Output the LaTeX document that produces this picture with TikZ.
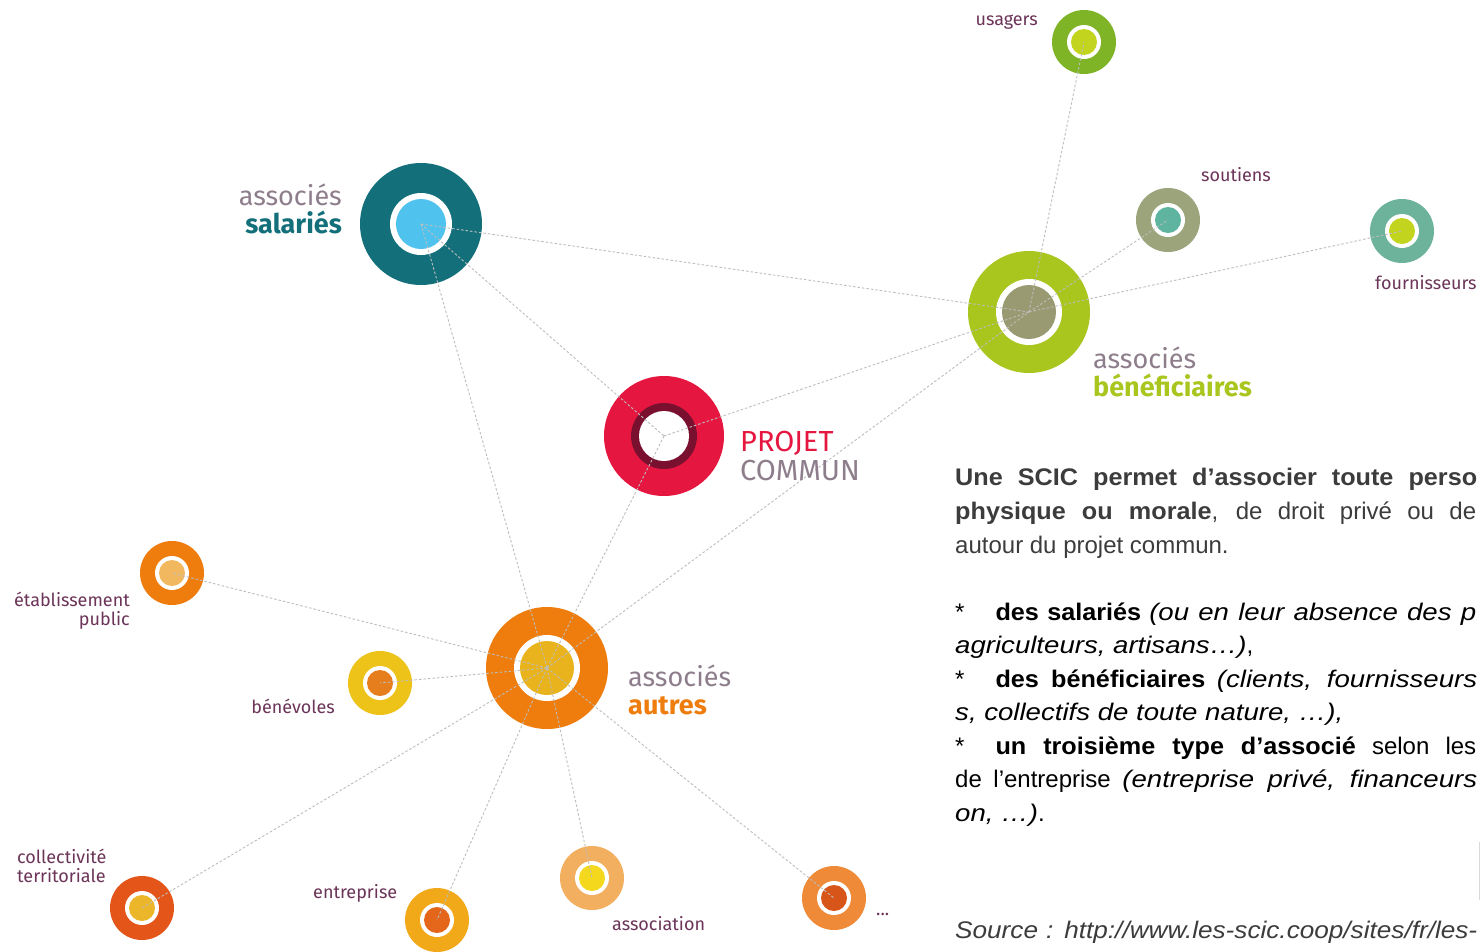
\documentclass[tikz,border=0pt]{standalone}
\usepackage{fontspec}
\setmainfont{Liberation Sans}[BoldFeatures={FakeStretch=1.05},ItalicFeatures={FakeStretch=1.15}]
\newfontfamily\srcfont{Liberation Sans}[ItalicFeatures={FakeStretch=1.09}]
\newfontfamily\labfont{Fira Sans}
\usetikzlibrary{positioning}
\definecolor{teal1}{HTML}{13707A}
\definecolor{sky1}{HTML}{4FC3EE}
\definecolor{crim}{HTML}{E5163F}
\definecolor{wine}{HTML}{7A1030}
\definecolor{lime1}{HTML}{A8C61E}
\definecolor{olive1}{HTML}{9A9A72}
\definecolor{orng}{HTML}{EE7D0E}
\definecolor{gold1}{HTML}{E8B31C}
\definecolor{grn1}{HTML}{7FB427}
\definecolor{lime2}{HTML}{C2D41E}
\definecolor{khaki}{HTML}{9BA47A}
\definecolor{teal2}{HTML}{5FB3A1}
\definecolor{teal3}{HTML}{6DB39B}
\definecolor{lorng}{HTML}{F2B860}
\definecolor{yel1}{HTML}{EDC31A}
\definecolor{orng2}{HTML}{E67E1E}
\definecolor{redor}{HTML}{E4551A}
\definecolor{gold2}{HTML}{EBB62A}
\definecolor{amber}{HTML}{F1A91A}
\definecolor{orng3}{HTML}{E4661A}
\definecolor{peach}{HTML}{F2AF5F}
\definecolor{yel2}{HTML}{F4D81E}
\definecolor{orng4}{HTML}{EE8A38}
\definecolor{orng5}{HTML}{D8551A}
\definecolor{plum}{HTML}{6B3458}
\definecolor{greyp}{HTML}{8E7E8C}
\definecolor{txtg}{HTML}{3C3C3C}
\definecolor{linkc}{HTML}{BDBDBD}
\tikzset{
  link/.style={draw=linkc, line width=0.9pt, dash pattern=on 2.5pt off 2pt},
  hub/.style={circle, minimum size=122pt, inner sep=0pt},
  leaf/.style={circle, minimum size=64pt, inner sep=0pt},
  small/.style={font=\labfont\fontsize{18}{20}\selectfont, text=plum, inner sep=0pt},
  biglab/.style={font=\labfont\fontsize{27}{29}\selectfont, inner sep=0pt},
  para/.style={font=\fontsize{24}{28}\selectfont, inner sep=0pt, anchor=base west, text=black},
}
% ring: name, center, outer radius, outer colour, white radius, inner radius, inner colour
\newcommand{\ring}[7]{%
  \fill[#4] (#2) circle (#3);
  \fill[white] (#2) circle (#5);
  \fill[#7] (#2) circle (#6);
}
\newcommand{\just}[2]{\makebox[#1pt][s]{#2}}
\begin{document}
\begin{tikzpicture}[x=1pt,y=-1pt]
\useasboundingbox (0,0) rectangle (1481,951);
\fill[white] (0,0) rectangle (1481,951);
% named centres
\coordinate (sal) at (421,224);
\coordinate (pro) at (664,436);
\coordinate (ben) at (1029,312);
\coordinate (aut) at (547,668);
\coordinate (usa) at (1084,42);
\coordinate (sou) at (1168,220);
\coordinate (fou) at (1402,231);
\coordinate (eta) at (172,573);
\coordinate (bnv) at (380,683);
\coordinate (col) at (142,908);
\coordinate (ent) at (437,920);
\coordinate (ass) at (592,878);
\coordinate (dot) at (834,898);
% discs
\ring{sal}{sal}{61}{teal1}{31}{25}{sky1}
\fill[crim] (pro) circle (60);
\fill[wine] (pro) circle (33);
\fill[white] (pro) circle (25);
\ring{ben}{ben}{61}{lime1}{33}{27}{olive1}
\ring{aut}{aut}{61}{orng}{33}{27}{gold1}
\ring{usa}{usa}{32}{grn1}{17}{13}{lime2}
\ring{sou}{sou}{32}{khaki}{17}{13}{teal2}
\ring{fou}{fou}{32}{teal3}{17}{13}{lime2}
\ring{eta}{eta}{32}{orng}{17}{13}{lorng}
\ring{bnv}{bnv}{32}{yel1}{17}{13}{orng2}
\ring{col}{col}{32}{redor}{17}{13}{gold2}
\ring{ent}{ent}{32}{amber}{17}{13}{orng3}
\ring{ass}{ass}{32}{peach}{17}{13}{yel2}
\ring{dot}{dot}{32}{orng4}{17}{13}{orng5}
% node handles
\node[hub] (nsal) at (sal) {};
\node[hub] (npro) at (pro) {};
\node[hub] (nben) at (ben) {};
\node[hub] (naut) at (aut) {};
\node[leaf] (nusa) at (usa) {};
\node[leaf] (nsou) at (sou) {};
\node[leaf] (nfou) at (fou) {};
\node[leaf] (neta) at (eta) {};
\node[leaf] (nbnv) at (bnv) {};
\node[leaf] (ncol) at (col) {};
\node[leaf] (nent) at (ent) {};
\node[leaf] (nass) at (ass) {};
\node[leaf] (ndot) at (dot) {};
% connectors (centre to centre, drawn over the discs)
\draw[link] (nsal.center) -- (nben.center);
\draw[link] (nsal.center) -- (npro.center);
\draw[link] (nsal.center) -- (naut.center);
\draw[link] (npro.center) -- (nben.center);
\draw[link] (npro.center) -- (naut.center);
\draw[link] (naut.center) -- (nben.center);
\draw[link] (nben.center) -- (nusa.center);
\draw[link] (nben.center) -- (nsou.center);
\draw[link] (nben.center) -- (nfou.center);
\draw[link] (naut.center) -- (neta.center);
\draw[link] (naut.center) -- (nbnv.center);
\draw[link] (naut.center) -- (ncol.center);
\draw[link] (naut.center) -- (nent.center);
\draw[link] (naut.center) -- (nass.center);
\draw[link] (naut.center) -- (ndot.center);
% big labels
\node[biglab, anchor=base east, text=greyp] (lsal1) at (342,205) {associés};
\node[biglab, anchor=base east, text=teal1, font=\labfont\bfseries\fontsize{27}{29}\selectfont] (lsal2) at (342,233) {salariés};
\node[biglab, anchor=base west, text=crim, font=\labfont\fontsize{29}{31}\selectfont] (lpro1) at (740,451) {PROJET};
\node[biglab, anchor=base west, text=greyp, font=\labfont\fontsize{29}{31}\selectfont] (lpro2) at (740,480) {COMMUN};
\node[biglab, anchor=base west, text=greyp] (lben1) at (1093,368) {associés};
\node[biglab, anchor=base west, text=lime1, font=\labfont\bfseries\fontsize{27}{29}\selectfont] (lben2) at (1093,396) {bénéficiaires};
\node[biglab, anchor=base west, text=greyp] (laut1) at (628,686) {associés};
\node[biglab, anchor=base west, text=orng, font=\labfont\bfseries\fontsize{27}{29}\selectfont] (laut2) at (628,714) {autres};
% small labels
\node[small, anchor=base east] (lusa) at (1038,25) {usagers};
\node[small, anchor=base] (lsou) at (1236,181) {soutiens};
\node[small, anchor=base west] (lfou) at (1375,289) {fournisseurs};
\node[small, anchor=base east] (leta1) at (130,606) {établissement};
\node[small, anchor=base east] (leta2) at (130,625) {public};
\node[small, anchor=base east] (lbnv) at (335,713) {bénévoles};
\node[small, anchor=base west] (lcol1) at (17,863) {collectivité};
\node[small, anchor=base west] (lcol2) at (17,882) {territoriale};
\node[small, anchor=base west] (lent) at (313,898) {entreprise};
\node[small, anchor=base west] (lass) at (612,930) {association};
\node[small, anchor=base west] (ldot) at (876,915) {...};
% text block (justified lines reaching the right edge)
\node[para, text=txtg] (t1) at (955,485) {\just{522}{\textbf{Une SCIC permet d’associer toute perso}}};
\node[para, text=txtg] (t2) at (955,519) {\just{521}{\textbf{physique ou morale}, de droit privé ou de}};
\node[para, text=txtg] (t3) at (955,553) {autour du projet commun.};
\node[para] (t4) at (955,620) {\just{521}{*\hspace{31pt}\textbf{des salariés} \textit{(ou en leur absence des p}}};
\node[para] (t5) at (955,653) {\textit{agriculteurs, artisans…)},};
\node[para] (t6) at (955,687) {\just{522}{*\hspace{31pt}\textbf{des bénéficiaires} \textit{(clients, fournisseurs}}};
\node[para] (t7) at (955,720) {\textit{s, collectifs de toute nature, …),}};
\node[para] (t8) at (955,754) {\just{521}{*\hspace{31pt}\textbf{un troisième type d’associé} selon les}};
\node[para] (t9) at (955,787) {\just{522}{de l’entreprise \textit{(entreprise privé, financeurs}}};
\node[para] (t10) at (955,821) {\textit{on, …)}.};
\node[para, text=txtg] (t11) at (955,938) {\srcfont\just{522}{\textit{Source : http://www.les-scic.coop/sites/fr/les-}}};
\draw[black!15, line width=1pt] (1479.5,842) -- (1479.5,900);
\end{tikzpicture}
\end{document}
